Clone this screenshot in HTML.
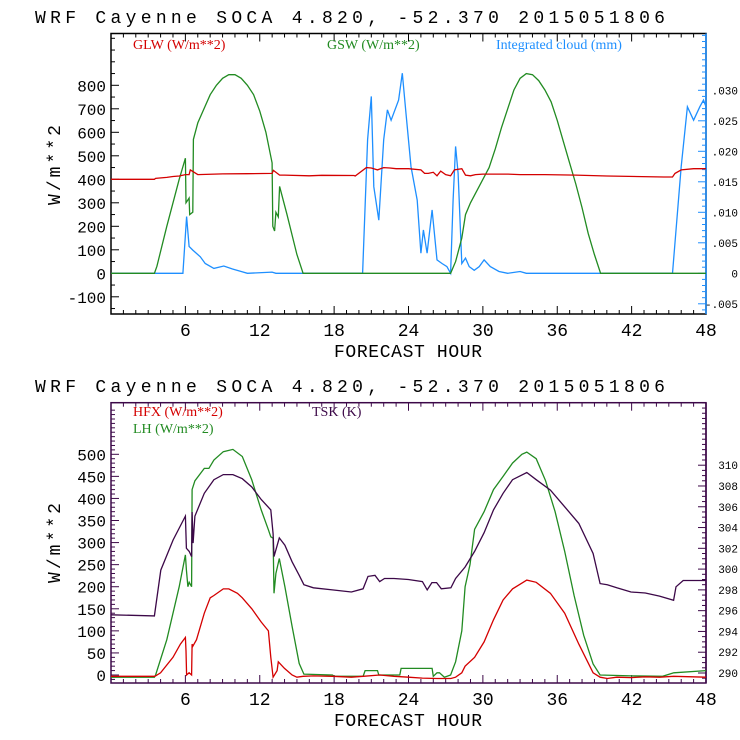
<!DOCTYPE html>
<html><head><meta charset="utf-8"><style>
html,body{margin:0;padding:0;background:#fff;width:740px;height:740px;overflow:hidden}
svg{display:block}
text{font-family:"Liberation Mono","DejaVu Sans Mono",monospace}
.leg{font-family:"Liberation Serif",serif;font-size:14px}
</style></head><body>
<svg id="c" width="740" height="740" viewBox="0 0 740 740" xmlns="http://www.w3.org/2000/svg"></svg>
<script>
// ---------- data ----------
const xTicks = [6,12,18,24,30,36,42,48];
const topLeftTicks = [-100,0,100,200,300,400,500,600,700,800];
const topRightTicks = [-5,0,5,10,15,20,25,30];
const topRightLabels = ['-.005','0','.005','.010','.015','.020','.025','.030'];
const botLeftTicks = [0,50,100,150,200,250,300,350,400,450,500];
const botRightTicks = [290,292,294,296,298,300,302,304,306,308,310];

const glwHours = [0,3.5,3.6,4.5,5,5.5,6,6.3,6.4,7,9,11,13,13.1,13.6,14,16,17,19.6,19.7,20.6,21,21.5,22,22.5,23,24,25,25.3,25.6,26,26.3,26.6,27,27.4,27.7,28.3,28.6,29,29.4,30,32,33,35,37.5,40,44.6,45.3,45.5,46,47,48];
const glwVals  = [400,400,404,408,412,414,420,420,440,420,423,424,425,438,418,418,415,417,416,414,450,448,440,450,448,445,445,440,425,425,430,415,435,420,415,440,445,418,415,420,422,422,420,420,418,414,410,410,425,440,445,445];

const gswHours = [0,3.5,3.7,4.5,5.5,6.0,6.05,6.3,6.35,6.6,6.65,7.0,7.5,8.0,8.5,9.0,9.5,10.0,10.5,11.0,11.5,12.0,12.5,13.0,13.05,13.2,13.3,13.5,13.6,14.2,15.0,15.5,27.4,27.8,28.3,28.6,29.0,29.5,30.0,30.5,31.0,31.5,32.0,32.5,33.0,33.5,34.0,34.5,35.0,35.5,36.0,36.5,37.0,37.5,38.0,38.5,39.0,39.5,48];
const gswVals  = [0,0,30,200,400,490,300,320,250,260,570,640,700,760,800,830,845,845,830,800,760,690,600,470,200,180,260,240,370,250,80,0,0,50,150,250,300,350,400,450,530,620,700,780,830,850,845,820,780,730,650,560,470,380,280,170,80,0,0];

const cloudHours = [0,5.8,6.1,6.3,6.6,7.2,7.6,8.3,9.1,9.8,10.5,11,13,13.3,20.3,20.7,21.0,21.2,21.6,22.0,22.3,22.6,23.2,23.5,23.8,24.2,24.7,25.0,25.2,25.5,25.9,26.3,26.7,27.1,27.4,27.6,27.8,28.0,28.3,28.6,28.9,29.3,29.7,30.1,30.6,31.3,32,33,33.5,45.3,46.0,46.5,47.0,47.5,47.8,48];
const cloudVals  = [0,0,9.3,4.4,3.8,2.7,1.6,0.8,1.2,0.7,0.3,0,0.2,0,0,21.9,29.0,14.2,8.7,21.9,26.8,25.1,28.4,32.8,26.2,17.5,12.0,3.3,7.1,3.3,10.4,2.2,1.6,1.1,0,12.0,20.8,16.4,1.6,2.5,1.1,0.5,1.1,2.2,1.1,0.3,0,0.3,0,0,17.5,27.3,25.1,27.3,28.4,27.3];

const lhHours = [0,3.5,3.6,4.5,5.5,6.0,6.08,6.2,6.31,6.5,6.54,6.77,7.53,7.9,8.3,9.06,9.83,10.59,11.36,12.12,12.7,12.89,13.08,13.15,13.3,13.58,14.03,14.61,15.18,15.56,17.86,18,20.34,20.5,21.5,21.6,23.3,23.4,25.9,26.0,26.3,26.5,26.9,27.4,27.8,28.3,28.57,28.96,29.33,30.1,30.86,31.63,32.39,33.15,33.54,34.3,35.06,35.83,36.6,37.36,38.13,38.89,39.46,42,44.5,45.4,48];
const lhVals  = [-5,-5,0,80,200,272,238,200,210,200,420,440,468,468,487,506,511,495,442,374,329,313,310,185,230,264,200,110,26,2,0,-3,-3,10,10,0,0,15,15,-3,5,5,-5,0,30,100,200,250,330,370,420,450,480,500,505,490,440,370,280,180,90,25,0,-2,-3,5,10];

const hfxHours = [0,3.5,3.6,4,5,5.6,6.0,6.05,6.1,6.3,6.5,6.54,6.6,6.9,7.53,8.0,8.3,9.06,9.5,10.2,10.59,11.36,12.12,12.7,12.89,13.08,13.4,13.5,14.0,14.61,15.0,15.5,16.33,17.86,19.39,20.34,21.68,22.83,24,25.12,26.27,27.42,27.8,28.3,28.57,29.33,30.1,30.86,31.63,32.39,33.54,34.3,35.45,36.6,37.74,38.89,39.46,40.04,40.8,41.95,43.1,44.25,45.39,48];
const hfxVals  = [-3,-3,-2,5,40,70,85,55,0,5,0,70,65,80,140,175,180,195,195,185,175,150,120,100,40,-5,10,30,15,0,-5,-3,-2,-3,-5,-3,0,-3,-5,-7,-8,-8,-5,5,20,40,75,125,170,195,215,210,185,140,70,5,-5,-8,-5,-6,-4,-5,-3,-5];

const tskHours = [0,3.5,4.02,5.01,6.0,6.08,6.31,6.5,6.54,6.62,6.77,7.53,8.3,9.06,9.83,10.59,11.36,12.12,12.89,13.08,13.15,13.58,14.03,14.61,15.18,15.56,16.33,17.86,19.39,20.34,20.73,21.3,21.68,22.06,22.83,23.98,25.12,25.51,25.89,26.27,26.65,27.42,27.8,28.57,29.33,30.1,30.86,31.63,32.39,33.54,34.3,35.45,36.6,37.74,38.89,39.46,40.04,40.8,41.95,43.1,44.25,45.39,45.58,46.16,48];
const tskVals  = [295.6,295.5,299.9,302.8,305.1,302.0,301.7,301.2,305.5,302.5,305.1,307.3,308.6,309.1,309.1,308.7,307.9,306.7,305.7,303.4,301.2,303.0,302.3,300.7,299.4,298.5,298.2,298.0,297.8,298.1,299.3,299.4,298.8,299.1,299.1,299.0,298.8,298.0,298.7,298.7,298.1,298.2,299.1,300.2,301.7,303.5,305.7,307.3,308.6,309.3,308.6,307.6,306.0,304.4,301.5,298.6,298.5,298.2,297.8,297.7,297.4,297.0,298.3,298.9,298.9];

// ---------- drawing ----------
const NS='http://www.w3.org/2000/svg';
const svg=document.getElementById('c');
function mk(tag,attrs,parent){const e=document.createElementNS(NS,tag);for(const k in attrs)e.setAttribute(k,attrs[k]);(parent||svg).appendChild(e);return e;}
const X0=111,X1=706;
const xs=h=>X0+(X1-X0)*h/48;
const RED='#d40000',GREEN='#228b22',BLUE='#1e8fff',PURP='#3c0848';

function panel(p){
  const g=mk('g',{});
  
  
  const t=mk('text',{x:35,y:p.titleY,'font-size':18,textLength:630,lengthAdjust:'spacing'},g);
  t.textContent='WRF  Cayenne SOCA   4.820, -52.370  2015051806';
  
  
  const box=mk('rect',{x:X0,y:p.top,width:X1-X0,height:p.bot-p.top,fill:'none',stroke:p.boxColor,'stroke-width':1.5},g);
  
  
  mk('line',{x1:X1,y1:p.top,x2:X1,y2:p.bot,stroke:p.rightColor,'stroke-width':1.5},g);
  for(let h=1;h<48;h++){
    const L=(h%6===0)?8:4,x=xs(h);
    mk('line',{x1:x,y1:p.bot,x2:x,y2:p.bot-L,stroke:p.boxColor},g);
    mk('line',{x1:x,y1:p.top,x2:x,y2:p.top+L,stroke:p.boxColor},g);
  }
  xTicks.forEach(h=>{const tx=mk('text',{x:xs(h),y:p.bot+22,'font-size':18,'text-anchor':'middle'},g);tx.textContent=h;
    
    });
  const xl=mk('text',{x:408,y:p.bot+43,'font-size':18,'text-anchor':'middle',textLength:148,lengthAdjust:'spacing'},g);
  xl.textContent='FORECAST HOUR';
  
  
  const yl=mk('text',{x:0,y:0,'font-size':18,'text-anchor':'middle',transform:`translate(${p.ylx},${p.yly}) rotate(-90)`,textLength:80,lengthAdjust:'spacing'},g);
  yl.textContent='W/m**2';
  
  
  for(let v=p.lMinorStart;v<=p.lMax;v+=p.lMinor){
    const y=p.ly(v);if(y<p.top||y>p.bot)continue;
    const L=(p.leftTicks.includes(v))?8:4;
    mk('line',{x1:X0,y1:y,x2:X0+L,y2:y,stroke:p.boxColor},g);
  }
  p.leftTicks.forEach(v=>{const tx=mk('text',{x:106,y:p.ly(v)+6,'font-size':16,'text-anchor':'end'},g);tx.textContent=v;
    
    });
  for(let v=p.rMinorStart;v<=p.rMax;v+=p.rMinor){
    const y=p.ry(v);if(y<p.top||y>p.bot)continue;
    const L=(p.rightTicks.includes(Math.round(v*10)/10))?8:4;
    mk('line',{x1:X1,y1:y,x2:X1-L,y2:y,stroke:p.rightColor},g);
  }
  p.rightTicks.forEach((v,i)=>{const tx=mk('text',{x:738,y:p.ry(v)+4,'font-size':11,'text-anchor':'end',fill:'#000'},g);tx.textContent=p.rightLabels?p.rightLabels[i]:v;
    
    });
  return g;
}
function series(g,hours,vals,yf,color,name){
  const pts=hours.map((h,i)=>xs(h).toFixed(1)+','+yf(vals[i]).toFixed(1)).join(' ');
  const pl=mk('polyline',{points:pts,fill:'none',stroke:color,'stroke-width':1.3},g);
  
  
}
function legend(g,x,y,txt,color,name){
  const t=mk('text',{x:x,y:y,class:'leg',fill:color},g);t.textContent=txt;
  
  
}

const tLy=v=>273.3-v*0.235;
const tRy=v=>273.3-v*6.1;
const gt=panel({name:'radiation-panel',titleY:23,top:33.5,bot:314,boxColor:'#000',rightColor:BLUE,ylx:60,yly:165,
  ly:tLy,ry:tRy,leftTicks:topLeftTicks,lMinorStart:-150,lMinor:50,lMax:1000,
  rightTicks:topRightTicks,rightLabels:topRightLabels,rMinorStart:-6,rMinor:1,rMax:39});
series(gt,cloudHours,cloudVals,tRy,BLUE,'integrated-cloud-line');
series(gt,gswHours,gswVals,tLy,GREEN,'gsw-line');
series(gt,glwHours,glwVals,tLy,RED,'glw-line');
legend(gt,133,49,'GLW (W/m**2)',RED,'legend-glw');
legend(gt,327,49,'GSW (W/m**2)',GREEN,'legend-gsw');
legend(gt,496,49,'Integrated cloud (mm)',BLUE,'legend-cloud');

const bLy=v=>675-v*0.4414;
const bRy=v=>673-(v-290)*10.39;
const gb=panel({name:'flux-panel',titleY:392,top:402.7,bot:683,boxColor:PURP,rightColor:PURP,ylx:60,yly:543,
  ly:bLy,ry:bRy,leftTicks:botLeftTicks,lMinorStart:-10,lMinor:10,lMax:600,
  rightTicks:botRightTicks,rMinorStart:289,rMinor:0.5,rMax:316});
series(gb,lhHours,lhVals,bLy,GREEN,'lh-line');
series(gb,tskHours,tskVals,bRy,PURP,'tsk-line');
series(gb,hfxHours,hfxVals,bLy,RED,'hfx-line');
legend(gb,133,416,'HFX (W/m**2)',RED,'legend-hfx');
legend(gb,133,433,'LH  (W/m**2)',GREEN,'legend-lh');
legend(gb,312,416,'TSK (K)',PURP,'legend-tsk');
</script>
</body></html>
